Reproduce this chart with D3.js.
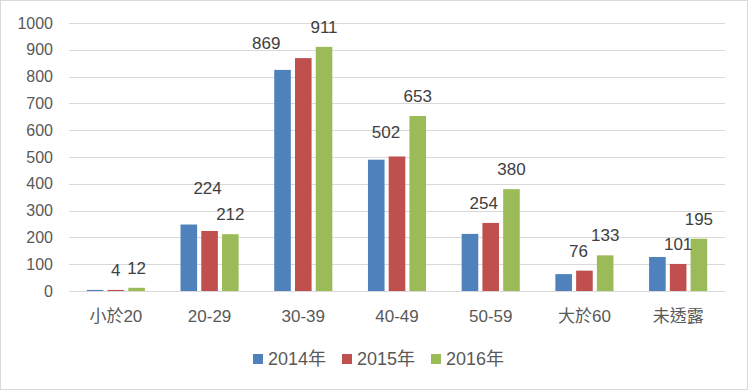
<!DOCTYPE html>
<html>
<head>
<meta charset="utf-8">
<script src="https://cdnjs.cloudflare.com/ajax/libs/d3/7.8.5/d3.min.js"></script>
<style>
  body { margin: 0; background: #fff; }
  svg { font-family: 'Liberation Sans', 'Noto Sans CJK TC', sans-serif; }
</style>
</head>
<body>
<div id="chart"></div>
<script>
const categories = ['小於20', '20-29', '30-39', '40-49', '50-59', '大於60', '未透露'];
const seriesNames = ['2014年', '2015年', '2016年'];
const values2014 = [4, 248, 825, 490, 213, 63, 127];
const values2015 = [4, 224, 869, 502, 254, 76, 101];
const values2016 = [12, 212, 911, 653, 380, 133, 195];
const yTicks = [0, 100, 200, 300, 400, 500, 600, 700, 800, 900, 1000];
const labelledSeries = ['2015年', '2016年'];

const colors = ['#4f81bd', '#c0504d', '#9bbb59'];
const series = [values2014, values2015, values2016];

const width = 748, height = 390;
const margin = { left: 69, right: 23, top: 23, bottom: 99 };

const svg = d3.select('#chart')
  .append('svg')
  .attr('width', width)
  .attr('height', height);

svg.append('rect')
  .attr('x', 0.5).attr('y', 0.5)
  .attr('width', width - 1).attr('height', height - 1)
  .attr('fill', '#fff')
  .attr('stroke', '#d9d9d9');

const x = d3.scaleBand()
  .domain(categories)
  .range([margin.left, width - margin.right])
  .paddingInner(0.38)
  .paddingOuter(0.19);

const x1 = d3.scaleBand()
  .domain(seriesNames)
  .range([0, x.bandwidth()])
  .paddingInner(0.2)
  .paddingOuter(0);

const y = d3.scaleLinear()
  .domain([0, 1000])
  .range([height - margin.bottom, margin.top]);

// grid
svg.append('g')
  .selectAll('line')
  .data(yTicks)
  .enter()
  .append('line')
  .attr('x1', margin.left)
  .attr('x2', width - margin.right)
  .attr('y1', (d) => Math.round(y(d)) + 0.5)
  .attr('y2', (d) => Math.round(y(d)) + 0.5)
  .attr('stroke', '#d9d9d9')
  .attr('stroke-width', 1);

// y tick labels
svg.append('g')
  .selectAll('text')
  .data(yTicks)
  .enter()
  .append('text')
  .attr('x', 53)
  .attr('y', (d) => y(d))
  .attr('dy', '0.35em')
  .attr('text-anchor', 'end')
  .attr('fill', '#595959')
  .style('font-size', '16px')
  .text((d) => d);

const rows = categories.map((c, i) => ({
  category: c,
  values: seriesNames.map((s, j) => ({ series: s, value: series[j][i], color: colors[j] })),
}));

const group = svg.append('g')
  .selectAll('g')
  .data(rows)
  .enter()
  .append('g')
  .attr('transform', (d) => 'translate(' + x(d.category) + ',0)');

group.selectAll('rect')
  .data((d) => d.values)
  .enter()
  .append('rect')
  .attr('x', (d) => x1(d.series))
  .attr('width', x1.bandwidth())
  .attr('y', (d) => y(d.value))
  .attr('height', (d) => y(0) - y(d.value))
  .attr('fill', (d) => d.color);

// data labels (a few were dragged aside in the original)
const nudge = { '20-29|2015年': [-2, -23], '30-39|2015年': [-37, 5], '40-49|2015年': [-11, -4], '50-59|2015年': [-7, 0], '大於60|2015年': [-6, 0] };

group.selectAll('text')
  .data((d) => d.values
    .filter((v) => labelledSeries.includes(v.series))
    .map((v) => Object.assign({ category: d.category }, v)))
  .enter()
  .append('text')
  .attr('x', (d) => x1(d.series) + x1.bandwidth() / 2 + (nudge[d.category + '|' + d.series] || [0, 0])[0])
  .attr('y', (d) => y(d.value) - 20 + (nudge[d.category + '|' + d.series] || [0, 0])[1])
  .attr('dy', '0.35em')
  .attr('text-anchor', 'middle')
  .attr('fill', '#404040')
  .style('font-size', '17px')
  .text((d) => d.value);

// category labels
svg.append('g')
  .selectAll('text')
  .data(categories)
  .enter()
  .append('text')
  .attr('x', (d) => x(d) + x.bandwidth() / 2)
  .attr('y', 316)
  .attr('dy', '0.35em')
  .attr('text-anchor', 'middle')
  .attr('fill', '#595959')
  .style('font-size', '17px')
  .text((d) => d);

// legend
const legendItem = svg.append('g')
  .selectAll('g')
  .data(seriesNames)
  .enter()
  .append('g')
  .attr('transform', (d, i) => 'translate(' + (253 + i * 89) + ',359)');

legendItem.append('rect')
  .attr('x', 0)
  .attr('y', -5)
  .attr('width', 10)
  .attr('height', 10)
  .attr('fill', (d, i) => colors[i]);

legendItem.append('text')
  .attr('x', 15)
  .attr('y', 0)
  .attr('dy', '0.35em')
  .attr('fill', '#595959')
  .style('font-size', '18px')
  .text((d) => d);
</script>
</body>
</html>
